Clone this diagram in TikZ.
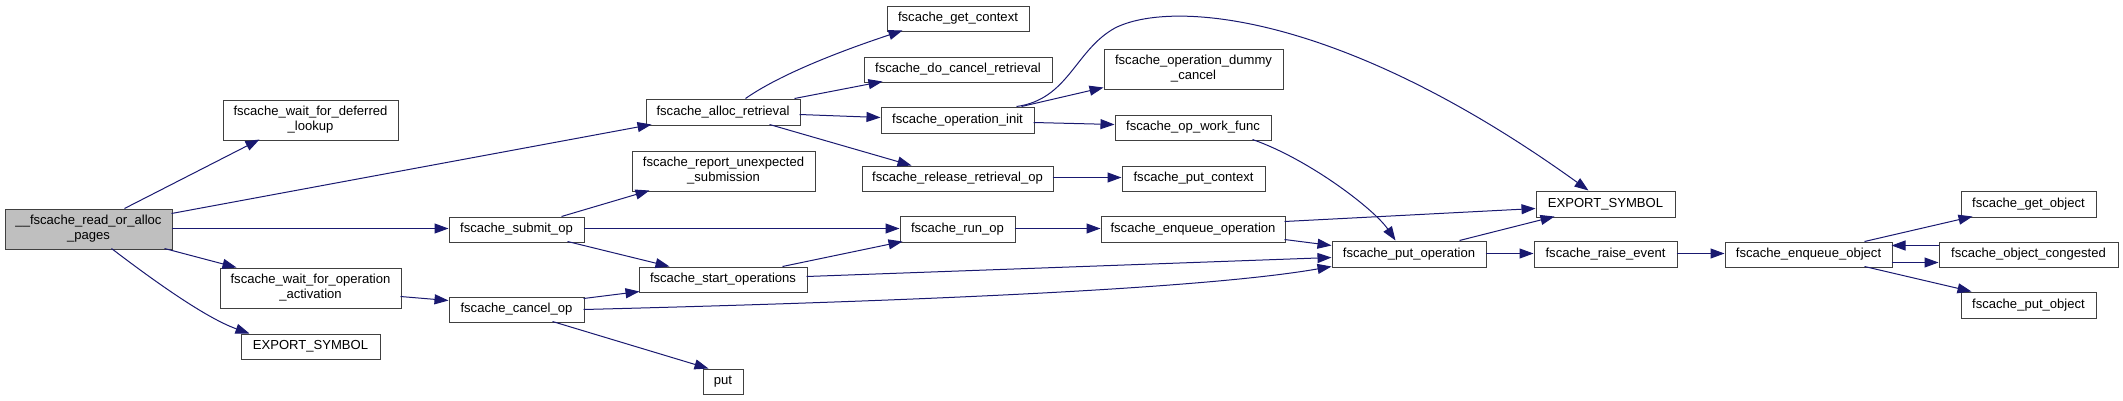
\documentclass[tikz,border=0pt]{standalone}
\usepackage{fontspec}
\setmainfont{Liberation Sans}
\usetikzlibrary{arrows.meta,calc}
\definecolor{edgeblue}{HTML}{191970}
\definecolor{rootgray}{HTML}{BFBFBF}
\newcommand\fnbox[7][]{\node[fn,#1,minimum width={(#5-#3)*0.75pt},minimum height={(#6-#4)*0.75pt}] (#2) at ({(#3+#5)/2},{(#4+#6)/2}) {#7};}
\newcommand\nw[3]{($(#1.north west)+(#2,#3)$)}
\begin{document}
\begin{tikzpicture}[x=0.75pt,y=-0.75pt,
  fn/.style={draw=black!75, line width=0.75pt, fill=white, inner sep=0pt, align=center,
             font=\fontsize{9.8}{11.3}\selectfont},
  rootfn/.style={fill=rootgray},
  call/.style={draw=edgeblue, line width=0.75pt, -{Triangle[length=10.5pt,width=7.5pt]}}]
\useasboundingbox (0,0) rectangle (2123,400);
% nodes
\fnbox[rootfn]{root}{5}{209}{172}{249}{\_\_fscache\_read\_or\_alloc\\\_pages}
\fnbox{wfd}{223}{100}{398}{140}{fscache\_wait\_for\_deferred\\\_lookup}
\fnbox{woa}{220}{268}{401}{308}{fscache\_wait\_for\_operation\\\_activation}
\fnbox{exl}{241}{334}{380}{359}{EXPORT\_SYMBOL}
\fnbox{alloc}{646}{99}{800}{125}{fscache\_alloc\_retrieval}
\fnbox{rus}{632}{151}{815}{191}{fscache\_report\_unexpected\\\_submission}
\fnbox{submit}{449}{217}{584}{242}{fscache\_submit\_op}
\fnbox{cancel}{449}{297}{584}{322}{fscache\_cancel\_op}
\fnbox{start}{639}{267}{807}{292}{fscache\_start\_operations}
\fnbox{put}{703}{369}{743}{394}{put}
\fnbox{getctx}{887}{6}{1029}{31}{fscache\_get\_context}
\fnbox{docancel}{864}{57}{1052}{82}{fscache\_do\_cancel\_retrieval}
\fnbox{opinit}{881}{107}{1034}{133}{fscache\_operation\_init}
\fnbox{release}{862}{166}{1053}{191}{fscache\_release\_retrieval\_op}
\fnbox{dummy}{1104}{49}{1283}{89}{fscache\_operation\_dummy\\\_cancel}
\fnbox{work}{1115}{115}{1271}{140}{fscache\_op\_work\_func}
\fnbox{putctx}{1122}{166}{1265}{191}{fscache\_put\_context}
\fnbox{runop}{900}{216}{1015}{242}{fscache\_run\_op}
\fnbox{enqop}{1101}{216}{1285}{242}{fscache\_enqueue\_operation}
\fnbox{putop}{1332}{241}{1486}{267}{fscache\_put\_operation}
\fnbox{exr}{1536}{191}{1675}{217}{EXPORT\_SYMBOL}
\fnbox{raise}{1534}{241}{1677}{267}{fscache\_raise\_event}
\fnbox{enqobj}{1725}{242}{1892}{267}{fscache\_enqueue\_object}
\fnbox{getobj}{1961}{191}{2096}{217}{fscache\_get\_object}
\fnbox{congested}{1939}{242}{2118}{267}{fscache\_object\_congested}
\fnbox{putobj}{1961}{292}{2096}{318}{fscache\_put\_object}
\coordinate (bend) at (1115,28);
% edges
\draw[call] \nw{root}{120}{0} -- \nw{wfd}{37}{40};
\draw[call] \nw{root}{167}{5} -- \nw{alloc}{6}{26};
\draw[call] \nw{root}{167}{20} -- \nw{submit}{0}{12};
\draw[call] \nw{root}{160}{40} -- \nw{woa}{17}{0};
\draw[call] \nw{root}{107}{40} .. controls +(38,29) and +(-45,-16) .. \nw{exl}{9}{0};
\draw[call] \nw{woa}{181}{29} -- \nw{cancel}{0}{4};
\draw[call] \nw{alloc}{100}{0} .. controls +(40,-28) and +(-45,15) .. \nw{getctx}{16}{25};
\draw[call] \nw{alloc}{149}{0} -- \nw{docancel}{19}{25};
\draw[call] \nw{alloc}{154}{16} -- \nw{opinit}{0}{11};
\draw[call] \nw{alloc}{124}{26} -- \nw{release}{50}{0};
\draw[call] \nw{submit}{113}{0} -- \nw{rus}{18}{40};
\draw[call] \nw{submit}{135}{12} -- \nw{runop}{0}{13};
\draw[call] \nw{submit}{119}{25} -- \nw{start}{31}{0};
\draw[call] \nw{cancel}{135}{2} -- \nw{start}{1}{25};
\draw[call] \nw{cancel}{135}{13} .. controls +(316,-8) and +(-132,23) .. \nw{putop}{0}{26};
\draw[call] \nw{cancel}{104}{25} -- \nw{put}{6}{0};
\draw[call] \nw{start}{144}{0} -- \nw{runop}{3}{26};
\draw[call] \nw{start}{168}{10} -- \nw{putop}{0}{17};
\draw[call] \nw{opinit}{141}{0} -- \nw{dummy}{0}{39};
\draw[call] \nw{opinit}{153}{16} -- \nw{work}{0}{10};
\draw[call] \nw{opinit}{136}{0} .. controls +(52,-7) and +(-40,22) .. (bend)
   .. controls +(55,-28) and +(-250,-180) .. \nw{exr}{53}{0};
\draw[call] \nw{work}{138}{25} .. controls +(57,20) and +(-21,-31) .. \nw{putop}{64}{0};
\draw[call] \nw{release}{191}{12} -- \nw{putctx}{0}{12};
\draw[call] \nw{runop}{115}{13} -- \nw{enqop}{0}{13};
\draw[call] \nw{enqop}{184}{6} -- \nw{exr}{0}{18};
\draw[call] \nw{enqop}{184}{24} -- \nw{putop}{0}{5};
\draw[call] \nw{putop}{128}{0} -- \nw{exr}{19}{26};
\draw[call] \nw{putop}{154}{13} -- \nw{raise}{0}{13};
\draw[call] \nw{raise}{143}{13} -- \nw{enqobj}{0}{12};
\draw[call] \nw{enqobj}{140}{0} -- \nw{getobj}{12}{26};
\draw[call] \nw{enqobj}{167}{21} -- \nw{congested}{0}{21};
\draw[call] \nw{congested}{0}{4} -- \nw{enqobj}{167}{4};
\draw[call] \nw{enqobj}{140}{25} -- \nw{putobj}{11}{0};
\end{tikzpicture}
\end{document}
